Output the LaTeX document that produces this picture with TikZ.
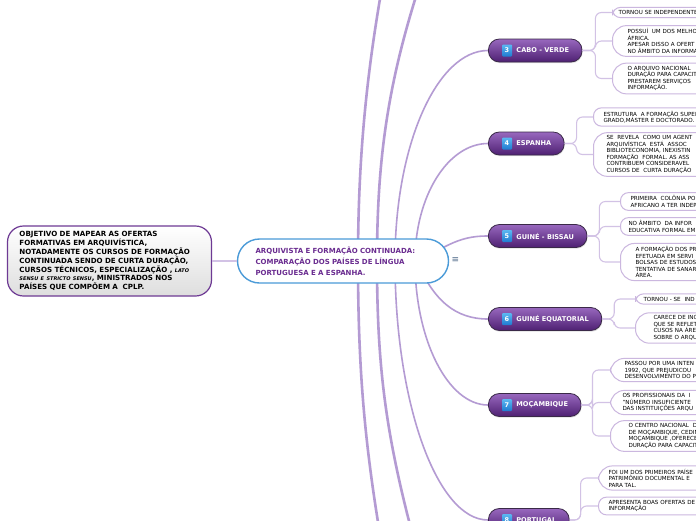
\documentclass[tikz,border=0pt]{standalone}
\usepackage{fontspec}
\setmainfont{DejaVu Sans}
\usetikzlibrary{backgrounds,shadows}

\definecolor{twigpurple}{HTML}{D2C2E5}
\definecolor{limbpurple}{HTML}{B49BD3}
\definecolor{leafline}{HTML}{CBB7DF}
\definecolor{rootblue}{HTML}{4B9BD8}
\definecolor{rootpurple}{HTML}{6A2C90}
\definecolor{goalpurple}{HTML}{6E3A94}
\definecolor{branchtop}{HTML}{9868BE}
\definecolor{branchbot}{HTML}{4E2072}
\definecolor{branchline}{HTML}{3A2948}
\definecolor{badgetop}{HTML}{5CB8F2}
\definecolor{badgebot}{HTML}{1F7AD0}
\definecolor{menublue}{HTML}{4F6A8A}

\newcommand{\minorit}{\fontsize{5}{6}\selectfont\itshape}

\begin{document}
\begin{tikzpicture}[x=1pt, y=-1pt,
  goal/.style={draw=goalpurple, line width=1.2pt, top color=white, bottom color=black!13,
    rounded corners=16pt, minimum height=70pt, text width=180pt, inner xsep=12pt,
    align=left, font=\bfseries\fontsize{7.1}{8.9}\selectfont},
  root/.style={draw=rootblue, line width=1.4pt, fill=white, rounded corners=22pt,
    minimum height=44pt, text width=175pt, inner xsep=18pt, align=left,
    text=rootpurple, font=\bfseries\fontsize{7}{11}\selectfont},
  branch/.style={draw=branchline, line width=0.8pt, top color=branchtop, bottom color=branchbot,
    rounded corners=11pt, minimum height=23pt, inner xsep=13pt, anchor=west, text=white,
    font=\bfseries\fontsize{6.6}{8}\selectfont,
    drop shadow={opacity=0.25, shadow xshift=0.6pt, shadow yshift=-1.2pt}},
  badge/.style={top color=badgetop, bottom color=badgebot, rounded corners=1pt,
    minimum width=10pt, minimum height=12pt, inner sep=0pt, text=white,
    font=\bfseries\fontsize{6.5}{7}\selectfont},
  leaf/.style={draw=leafline, line width=1pt, fill=white, rounded corners=8pt, anchor=west,
    align=left, text width=150pt, inner xsep=#1, inner ysep=3pt,
    font=\fontsize{5.6}{6.5}\selectfont},
  leaf/.default=7pt,
  tall/.style={rounded corners=14pt},
  limb/.style={draw=limbpurple, line width=2.6pt},
  arm/.style={draw=limbpurple, line width=1.6pt},
  twig/.style={draw=twigpurple, line width=1.1pt, rounded corners=6pt}]
  \useasboundingbox (0,0) rectangle (696,520);

  % central topic and objective
  \node[root] (root) at (343,261) {ARQUIVISTA E FORMAÇÃO CONTINUADA:\\COMPARAÇÃO DOS PAÍSES DE LÍNGUA\\PORTUGUESA E A ESPANHA.};
  \node[text=menublue, font=\fontsize{9}{9}\selectfont] (menu) at (455.5,260) {≡};
  \node[goal] (goal) at (109.5,261) {OBJETIVO DE MAPEAR AS OFERTAS\\FORMATIVAS EM ARQUIVÍSTICA,\\NOTADAMENTE OS CURSOS DE FORMAÇÃO\\CONTINUADA SENDO DE CURTA DURAÇÃO,\\CURSOS TÉCNICOS, ESPECIALIZAÇÃO , {\minorit LATO}\\{\minorit SENSU E STRICTO SENSU}, MINISTRADOS NOS\\PAÍSES QUE COMPÕEM A \ CPLP.};
  \draw[twig] (goal.east) -- (root.west);

  % countries
  \node[branch] (cabo) at (488,50.5) {\hspace*{15pt}CABO - VERDE};
  \node[branch] (espanha) at (488,143.5) {\hspace*{15pt}ESPANHA};
  \node[branch] (bissau) at (488,236) {\hspace*{15pt}GUINÉ - BISSAU};
  \node[branch] (equatorial) at (488,319) {\hspace*{15pt}GUINÉ EQUATORIAL};
  \node[branch] (mocambique) at (488,405) {\hspace*{15pt}MOÇAMBIQUE};
  \node[branch] (portugal) at (488,520) {\hspace*{15pt}PORTUGAL};
  \node[badge] (n3) at ([xshift=19pt]cabo.west) {3};
  \node[badge] (n4) at ([xshift=19pt]espanha.west) {4};
  \node[badge] (n5) at ([xshift=19pt]bissau.west) {5};
  \node[badge] (n6) at ([xshift=19pt]equatorial.west) {6};
  \node[badge] (n7) at ([xshift=19pt]mocambique.west) {7};
  \node[badge] (n8) at ([xshift=19pt]portugal.west) {8};

  % cabo verde
  \node[leaf=6pt] (cv1) at (612,12.5) {TORNOU SE INDEPENDENTE};
  \node[leaf=15pt, tall] (cv2) at (612,41) {POSSUÍ \ UM DOS MELHO\\ÁFRICA.\\APESAR DISSO A OFERT\\NO ÂMBITO DA INFORMA};
  \node[leaf=15pt, tall] (cv3) at (612,78.5) {O ARQUIVO NACIONAL\\DURAÇÃO PARA CAPACIT\\PRESTAREM SERVIÇOS\\INFORMAÇÃO.};
  \foreach \l in {cv1,cv2,cv3}
    \draw[twig] (cabo.east) -- ([xshift=13pt]cabo.east) |- (\l.west);

  % espanha
  \node[leaf=10pt] (es1) at (593,117) {ESTRUTURA \ A FORMAÇÃO SUPER\\GRADO,MÁSTER E DOCTORADO.};
  \node[leaf=13pt, tall] (es2) at (593,154.5) {SE \ REVELA \ COMO UM AGENT\\ARQUIVÍSTICA \ ESTÁ \ ASSOC\\BIBLIOTECONOMIA, INEXISTIN\\FORMAÇÃO \ FORMAL. AS ASS\\CONTRIBUEM CONSIDERAVEL\\CURSOS DE \ CURTA DURAÇÃO};
  \foreach \l in {es1,es2}
    \draw[twig] (espanha.east) -- ([xshift=12pt]espanha.east) |- (\l.west);

  % guine-bissau
  \node[leaf=10pt] (gb1) at (620,201.5) {PRIMEIRA \ COLÔNIA PO\\AFRICANO A TER INDEP};
  \node[leaf=8pt] (gb2) at (620,226.5) {NO ÂMBITO \ DA INFOR\\EDUCATIVA FORMAL EM};
  \node[leaf=15pt, tall] (gb3) at (620,262) {A FORMAÇÃO DOS PR\\EFETUADA EM SERVI\\BOLSAS DE ESTUDOS\\TENTATIVA DE SANAR\\ÁREA.};
  \foreach \l in {gb1,gb2,gb3}
    \draw[twig] (bissau.east) -- ([xshift=12pt]bissau.east) |- (\l.west);

  % guine equatorial
  \node[leaf=8pt] (ge1) at (635,299) {TORNOU - SE \ IND};
  \node[leaf=18pt, tall] (ge2) at (635,328) {CARECE DE INC\\QUE SE REFLET\\CUSOS NA ÁREA\\SOBRE O ARQU};
  \foreach \l in {ge1,ge2}
    \draw[twig] (equatorial.east) -- ([xshift=12pt]equatorial.east) |- (\l.west);

  % mocambique
  \node[leaf=14pt, tall] (mo1) at (610,370) {PASSOU POR UMA INTEN\\1992, QUE PREJUDICOU\\DESENVOLVIMENTO DO P};
  \node[leaf=12pt, tall] (mo2) at (610,402.5) {OS PROFISSIONAIS DA \ I\\"NÚMERO INSUFICIENTE\\DAS INSTITUIÇÕES ARQU};
  \node[leaf=18pt, tall] (mo3) at (610,436) {O CENTRO NACIONAL \ D\\DE MOÇAMBIQUE, CEDIM\\MOÇAMBIQUE ,OFERECE\\DURAÇÃO PARA CAPACIT};
  \foreach \l in {mo1,mo2,mo3}
    \draw[twig] (mocambique.east) -- ([xshift=11pt]mocambique.east) |- (\l.west);

  % portugal
  \node[leaf=10pt, tall] (pt1) at (598,478) {FOI UM DOS PRIMEIROS PAÍSE\\PATRIMÔNIO DOCUMENTAL E\\PARA TAL.};
  \node[leaf=10pt] (pt2) at (598,506) {APRESENTA BOAS OFERTAS DE\\INFORMAÇÃO};
  \foreach \l in {pt1,pt2}
    \draw[twig] (portugal.east) -- ([xshift=11pt]portugal.east) |- (\l.west);

  % connectors behind the central topic
  \begin{scope}[on background layer]
    \fill[white] (0,0) rectangle (696,520);
    \coordinate (hubA) at (358,261);
    \coordinate (hubB) at (377,261);
    \coordinate (hubC) at (395,261);
    \coordinate (hubD) at (415,261);
    \coordinate (hubE) at (430,255);
    \coordinate (hubF) at (420,268);
    \coordinate (offA) at (387,-40);
    \coordinate (offB) at (428,-40);
    \coordinate (offC) at (388,580);
    \coordinate (offD) at (425,580);
    \draw[limb] (hubA) .. controls (358,150) and (368,60) .. (offA);
    \draw[limb] (hubB) .. controls (377,150) and (390,70) .. (offB);
    \draw[limb] (hubA) .. controls (358,380) and (366,460) .. (offC);
    \draw[limb] (hubB) .. controls (377,380) and (388,450) .. (offD);
    \draw[arm] (hubC) .. controls (395,145) and (437,50.5) .. (cabo.west);
    \draw[arm] (hubD) .. controls (415,196) and (448,143.5) .. (espanha.west);
    \draw[arm] (hubE) .. controls (455,240) and (468,236) .. (bissau.west);
    \draw[arm] (hubF) .. controls (435,300) and (455,319) .. (equatorial.west);
    \draw[arm] (hubD) .. controls (415,340) and (448,405) .. (mocambique.west);
    \draw[arm] (hubC) .. controls (395,403) and (437,520) .. (portugal.west);
  \end{scope}
\end{tikzpicture}
\end{document}
